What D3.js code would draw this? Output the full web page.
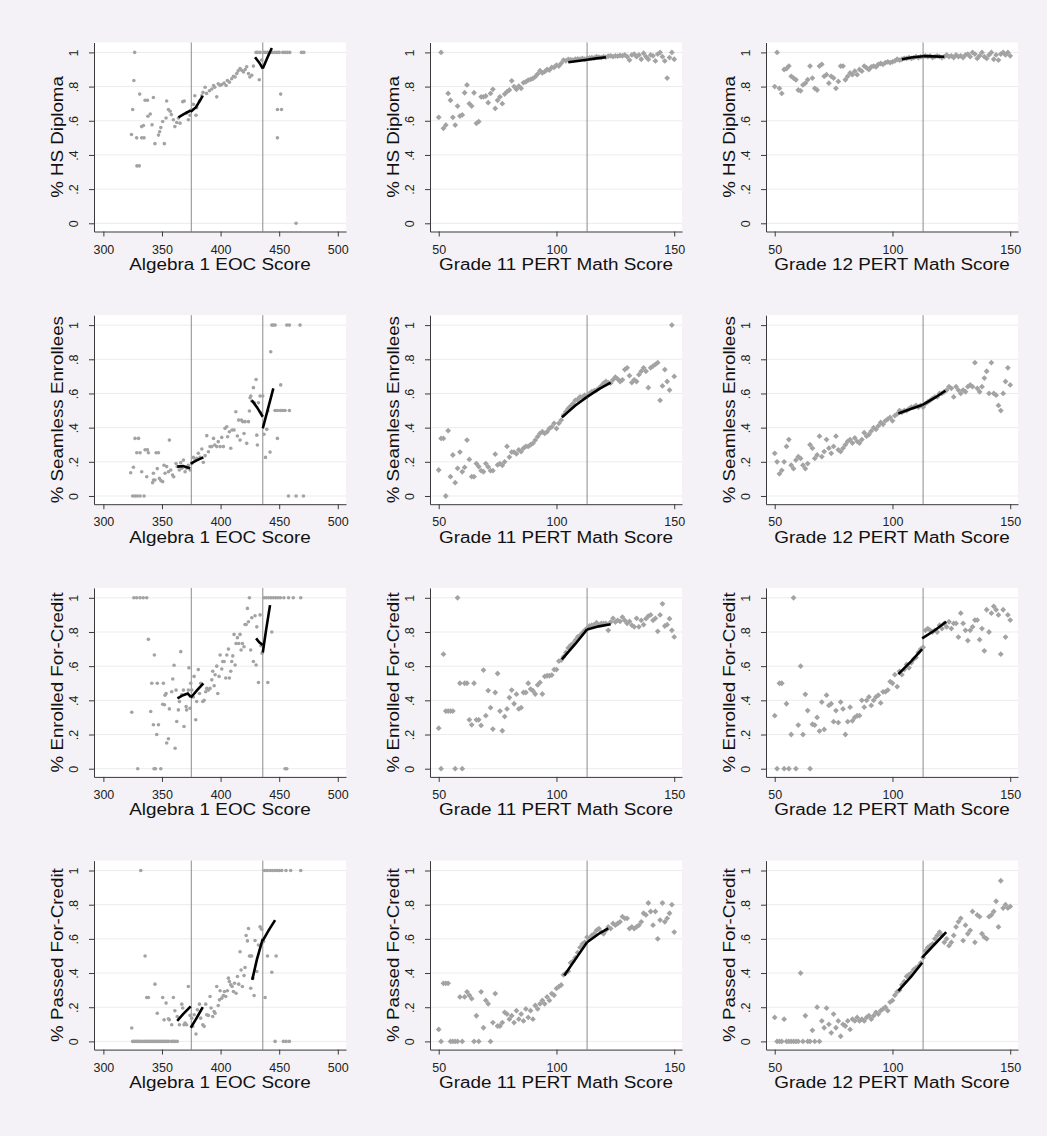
<!DOCTYPE html>
<html><head><meta charset="utf-8">
<script src="https://cdn.jsdelivr.net/npm/d3@7"></script>
<style>
body{margin:0;background:#f4f2f6;}
svg{display:block;font-family:"Liberation Sans",Arial,Helvetica,sans-serif;}
</style></head><body>
<svg id="chart" width="1047" height="1136"></svg>
<script>
// ---------- DATA ----------
const outcomeTitles = ["% HS Diploma","% Seamless Enrollees","% Enrolled For-Credit","% Passed For-Credit"];
const xTitles = ["Algebra 1 EOC Score","Grade 11 PERT Math Score","Grade 12 PERT Math Score"];
const eocTicks = [300,350,400,450,500];
const pertTicks = [50,100,150];
const yTicks = [0,.2,.4,.6,.8,1];
const yTickLabels = ["0",".2",".4",".6",".8","1"];
const eocCutoffs = [375,436];
const pertCutoffs = [113];
const pertScores = d3.range(50,151);

// Algebra 1 EOC panels: [score, share]
const hsDiplomaEOC = [[326.7,1],[326,.836],[325,.666],[324,.52],[328.4,.5],[332.7,.5],[334.7,.5],[328.6,.336],[330.6,.336],[331,.756],[332.7,.566],[334.2,.572],[335.6,.72],[337.6,.72],[338,.626],[340,.64],[342.7,.736],[341.5,.576],[344,.466],[347,.516],[348,.536],[349,.56],[350.6,.596],[352,.466],[354,.716],[353.5,.616],[355.5,.666],[357,.656],[358,.636],[359.7,.606],[361,.566],[362.6,.59],[364,.616],[365.4,.586],[367.7,.712],[369,.716],[371,.646],[372.5,.606],[374,.632],[375.4,.666],[376.8,.696],[378,.746],[379,.632],[379.6,.676],[382,.716],[384,.746],[385,.766],[386.8,.796],[388,.76],[390.5,.776],[392.5,.786],[394,.806],[395,.796],[396.7,.74],[398,.816],[399.6,.806],[401,.812],[403,.82],[404.7,.806],[405.8,.836],[407.5,.826],[409.5,.846],[411,.86],[412.4,.856],[413.8,.876],[415,.892],[416.6,.906],[418,.896],[419.5,.886],[421,.9],[422.3,.916],[423.8,.876],[425,.856],[426.6,.866],[428,.92],[430.3,1],[431.4,1],[433,.84],[433.7,1],[435,.956],[436.6,1],[438,1],[440,1],[442,1],[444,1],[446,1],[448,1],[450,1],[453,1],[455,1],[457,1],[459,1],[448.5,.666],[452,.666],[448.5,.5],[451.3,.756],[469,1],[471,1],[464.4,0]];
const seamlessEOC = [[323.3,.136],[325.6,.168],[327,.337],[330,.337],[325,0],[327,0],[329,0],[331.3,0],[334.7,0],[328.5,.253],[331.3,.253],[332.7,.142],[335.6,.27],[337.6,.27],[337,.113],[338.4,.253],[342,.078],[342.8,.094],[342.7,.133],[344,.094],[345,.253],[347,.253],[346,.16],[347.8,.103],[349,.09],[350.6,.084],[351.8,.18],[352.6,.133],[354,.172],[355.5,.142],[356.3,.327],[357.5,.152],[359,.123],[360,.113],[362,.19],[363,.172],[364.8,.152],[366,.195],[367,.162],[368.3,.21],[369.7,.142],[371,.162],[372.5,.18],[374,.152],[375.4,.19],[376.8,.226],[378.2,.21],[379.6,.22],[381,.25],[382.5,.226],[384,.275],[385.3,.197],[386.8,.236],[388.2,.353],[389.6,.259],[391,.289],[392.5,.289],[394,.337],[395,.298],[396.7,.289],[398,.318],[399.6,.289],[401,.343],[402.4,.289],[403.8,.396],[405.3,.405],[406,.347],[407.5,.376],[408.7,.279],[409.8,.386],[411.5,.386],[413,.493],[414.3,.351],[415.4,.444],[416.6,.327],[417.7,.444],[418.9,.435],[420,.366],[420.9,.435],[422.3,.308],[423.8,.435],[424.6,.497],[425.2,.575],[425.8,.585],[426.6,.556],[428,.634],[428.9,.546],[430.3,.682],[430.9,.356],[431.4,.298],[432.3,.546],[433.7,.585],[434.5,.487],[436,.585],[437,.361],[438.3,.226],[439.4,.39],[440.3,.497],[442.2,.257],[442.8,.844],[443.7,1],[445,1],[446.5,1],[451.3,.65],[446.5,.5],[448.5,.5],[451,.5],[453,.5],[455,.5],[448.5,.337],[456.5,1],[458.7,1],[457.9,0],[458.7,.5],[464.4,0],[467.8,1],[470.7,0]];
const enrolledEOC = [[324.2,.33],[326,1],[328.4,1],[331.3,1],[334,1],[337,1],[329.3,0],[338.4,.757],[340.4,.335],[341.3,.5],[346,.5],[351.2,.5],[342.7,.257],[343.5,.665],[343.2,0],[344.4,0],[349,0],[345.5,.2],[347,.257],[350.6,.377],[352.1,.374],[352.6,.43],[353.5,.44],[354,.15],[355.5,.175],[356.3,.35],[358.3,.45],[359.2,.525],[360.3,.605],[361.2,.12],[362,.46],[362.6,.276],[364,.344],[364.9,.393],[366,.685],[366.8,.432],[368.3,.46],[368.8,.247],[370.6,.364],[371,.344],[372.5,.46],[373,.59],[374,.354],[374.5,.5],[375.4,.46],[376.8,.42],[377.4,.54],[378.8,.286],[379.6,.393],[381,.58],[382,.44],[383,.5],[384.8,.393],[386,.4],[387.3,.45],[388.2,.47],[389.6,.46],[391,.47],[392.5,.52],[393.3,.57],[394.5,.485],[395.3,.55],[396.7,.6],[397.6,.44],[398.7,.54],[399.6,.665],[401,.583],[401.8,.627],[403,.627],[404.4,.531],[405.3,.665],[406.7,.7],[407.5,.531],[408.7,.57],[409.5,.627],[410.4,.66],[411.5,.786],[412.4,.607],[413.2,.733],[414.4,.767],[415.5,.733],[416.6,.786],[417.5,.695],[418.6,.733],[420,.714],[420.9,.844],[421.8,.844],[422.9,.938],[423.8,.86],[424.6,1],[425.7,.695],[426.6,.883],[428,.627],[429.4,.895],[430.3,.607],[430.9,.83],[432.3,.504],[433.7,.9],[434.5,.72],[435.4,.675],[437.1,1],[439,1],[441,1],[443,1],[445,1],[447,1],[449,1],[451,1],[454,1],[458,1],[462,1],[440.3,.504],[443.7,.8],[455,0],[456.5,0],[468.4,1]];
const passedEOC = [[324.2,.078],[325,0],[326.5,0],[328,0],[329.5,0],[331,0],[332.5,0],[334.5,0],[336,0],[337.5,0],[339,0],[340.5,0],[342,0],[343.5,0],[345,0],[346.5,0],[348,0],[349.5,0],[351,0],[352.5,0],[354,0],[355.5,0],[358,0],[359.5,0],[361,0],[363,0],[331.9,1],[335.6,.5],[337,.257],[338.4,.257],[344,.335],[346,.165],[350.6,.257],[351.8,.126],[353.5,.224],[355.5,.132],[356.3,.126],[358.3,.097],[359.7,.257],[361,.179],[363,.146],[364.9,.097],[366.9,.218],[367.7,.195],[368.8,.097],[369.7,.107],[371,.097],[372.5,.321],[374,.152],[375.4,.136],[376.2,.088],[377.4,.156],[379,.043],[380.2,.185],[382,.218],[383,.136],[384.8,.097],[386,.088],[387.3,.218],[388.2,.156],[389.6,.152],[391,.263],[391.9,.195],[393.3,.146],[394.5,.175],[395.3,.165],[396.7,.321],[398,.21],[399,.243],[399.6,.296],[401,.253],[402.4,.268],[403.3,.292],[404.4,.263],[405.8,.296],[406.7,.37],[407.5,.35],[408.7,.331],[409.8,.321],[411,.292],[411.9,.34],[413.2,.282],[414.4,.38],[415.5,.335],[416.6,.525],[417.5,.418],[418.6,.321],[420,.385],[420.9,.432],[421.8,.62],[422.9,.588],[423.8,.661],[424.6,.5],[425.7,.5],[426.5,.5],[425.7,.311],[427.5,.37],[428.6,.268],[429.4,.59],[430.9,.409],[432.3,.564],[433.7,.67],[435,.656],[436.6,.584],[438,.257],[440,.5],[443.7,.405],[437.5,1],[439.7,1],[442,1],[444.2,1],[446.5,1],[448.5,1],[450.2,1],[452.2,1],[455.8,1],[459.8,1],[468.4,1],[446.5,0],[453.6,0],[456,0],[458.7,0],[447.4,.5]];

// PERT panels: share at each score 50..150
const hsDiplomaG11 = [.62,1,.556,.575,.76,.72,.62,.575,.686,.628,.634,.764,.81,.70,.686,.764,.585,.595,.74,.74,.745,.706,.76,.784,.672,.72,.74,.70,.756,.77,.78,.834,.80,.784,.803,.79,.823,.828,.838,.842,.848,.858,.873,.893,.88,.887,.90,.897,.912,.912,.926,.92,.936,.955,.951,.959,.957,.955,.96,.962,.96,.965,.96,.965,.968,.97,.968,.975,.972,.97,.975,.972,.978,.98,.975,.98,.978,.982,.98,.985,.975,.955,.985,.99,.975,.985,.96,.995,.975,.96,.985,.98,.95,.99,1,.975,.95,.85,.97,1,.96];
const hsDiplomaG12 = [.80,1,.79,.76,.90,.905,.92,.86,.85,.84,.78,.775,.81,.82,.84,.92,.85,.79,.78,.92,.93,.86,.87,.82,.86,.85,.79,.83,.92,.92,.84,.86,.88,.87,.89,.87,.90,.89,.92,.91,.90,.915,.92,.915,.93,.935,.93,.94,.945,.94,.945,.95,.96,.955,.96,.965,.965,.97,.965,.97,.975,.97,.975,.975,.98,.975,.98,.97,.975,.98,.975,.97,.975,.985,.975,.98,.97,.985,.975,.98,.97,.985,.99,.975,1,.99,.965,.98,1,.975,.965,.985,1,.96,.985,.955,.99,1,.985,1,.98];
const seamlessG11 = [.152,.337,.337,0,.382,.113,.24,.078,.162,.257,.142,.168,.327,.214,.113,.113,.19,.172,.148,.142,.19,.17,.148,.148,.245,.182,.19,.18,.2,.29,.228,.257,.257,.247,.27,.26,.28,.29,.29,.3,.308,.327,.347,.366,.376,.366,.376,.395,.405,.425,.395,.425,.444,.473,.493,.512,.526,.54,.56,.565,.58,.58,.59,.585,.6,.61,.616,.62,.63,.644,.66,.67,.664,.66,.68,.696,.684,.67,.68,.74,.75,.704,.664,.68,.67,.71,.73,.75,.73,.634,.75,.76,.77,.78,.56,.644,.74,.67,.62,1,.70];
const seamlessG12 = [.25,.20,.13,.15,.20,.29,.33,.18,.16,.21,.23,.22,.18,.16,.19,.30,.28,.22,.24,.35,.23,.26,.33,.28,.25,.29,.35,.27,.26,.28,.30,.32,.33,.31,.34,.32,.31,.33,.37,.35,.36,.38,.40,.39,.41,.43,.42,.44,.45,.46,.44,.47,.48,.50,.49,.50,.50,.51,.52,.52,.53,.52,.53,.52,.54,.55,.56,.57,.58,.58,.60,.60,.61,.62,.64,.63,.58,.64,.62,.60,.62,.61,.64,.65,.64,.78,.63,.61,.64,.69,.73,.60,.78,.60,.59,.53,.50,.60,.67,.75,.65];
const enrolledG11 = [.237,0,.67,.337,.337,.337,.337,0,1,.5,0,.5,.5,.286,.257,.5,.286,.286,.253,.577,.31,.457,.357,.232,.446,.557,.337,.222,.305,.35,.416,.46,.38,.436,.35,.357,.446,.446,.5,.466,.456,.437,.49,.505,.437,.54,.544,.544,.548,.58,.58,.63,.635,.655,.68,.707,.722,.732,.751,.771,.78,.796,.81,.823,.835,.84,.843,.854,.843,.85,.85,.85,.81,.858,.88,.858,.868,.862,.887,.868,.85,.862,.84,.83,.88,.83,.868,.843,.878,.893,.9,.868,.88,.804,.9,.965,.835,.843,.878,.81,.771];
const enrolledG12 = [.31,0,.5,.5,0,.38,0,.2,1,0,.255,.6,.2,.435,.34,0,.26,.255,.30,.22,.39,.23,.43,.37,.38,.275,.34,.27,.39,.35,.2,.275,.36,.28,.30,.31,.31,.40,.36,.40,.42,.37,.40,.42,.43,.385,.45,.45,.46,.51,.5,.55,.48,.57,.55,.58,.61,.59,.62,.64,.65,.68,.70,.71,.81,.82,.81,.80,.81,.80,.84,.82,.85,.83,.86,.82,.85,.85,.77,.91,.85,.81,.75,.81,.83,.87,.87,.755,.82,.69,.93,.80,.91,.95,.93,.90,.67,.93,.77,.90,.87];
const passedG11 = [.07,0,.34,.34,.34,0,0,0,0,.26,0,.26,.29,.27,.25,0,.15,0,.29,.08,.24,.22,0,.11,.28,.09,.09,.11,.17,.16,.13,.15,.11,.18,.13,.16,.12,.19,.14,.18,.13,.21,.19,.22,.24,.22,.26,.24,.28,.27,.31,.32,.33,.39,.40,.41,.46,.47,.49,.52,.55,.57,.58,.61,.60,.62,.63,.65,.66,.64,.63,.65,.67,.66,.69,.68,.69,.70,.73,.72,.72,.66,.67,.66,.67,.68,.70,.75,.74,.81,.76,.68,.76,.60,.71,.81,.70,.72,.75,.80,.64];
const passedG12 = [.14,0,0,0,.13,0,0,0,0,0,0,.40,0,.15,0,0,.065,0,.2,0,.12,.08,.195,.10,.05,.16,.08,.12,.03,.10,.09,.12,.07,.13,.12,.14,.12,.13,.12,.14,.15,.13,.15,.17,.16,.18,.19,.20,.18,.23,.24,.27,.29,.30,.33,.35,.38,.39,.40,.42,.43,.44,.46,.49,.53,.55,.56,.57,.60,.62,.64,.62,.58,.60,.56,.58,.62,.67,.70,.72,.59,.68,.63,.65,.76,.58,.74,.73,.63,.61,.60,.73,.74,.76,.82,.67,.94,.78,.80,.78,.79];

// local linear fits on each side of the cutoffs: segments of [score, share]
const fitHsEOC = [[[364,.62],[369,.64],[374.5,.66]],[[374.5,.652],[379,.68],[384.8,.746]],[[429.4,.972],[433,.94],[436,.906]],[[436,.906],[440,.97],[443.7,1.026]]];
const fitSeamlessEOC = [[[363,.172],[368,.175],[374,.162]],[[374.5,.19],[380,.21],[385.3,.226]],[[426.6,.56],[431,.52],[436,.464]],[[436,.396],[440,.5],[445,.63]]];
const fitEnrolledEOC = [[[363.2,.412],[368,.43],[372,.44],[374.5,.42]],[[374.5,.415],[380,.46],[385.3,.5]],[[430.3,.763],[433,.74],[436,.724]],[[436,.68],[439,.82],[442.2,.957]]];
const fitPassedEOC = [[[363,.12],[368,.16],[374.5,.205]],[[374.5,.08],[379,.13],[384.8,.2]],[[427,.36],[431,.48],[436,.6]],[[436,.59],[441,.65],[446.5,.71]]];
const fitHsG11 = [[[105,.942],[109,.95],[113,.957]],[[113,.957],[117,.965],[121,.972]]];
const fitHsG12 = [[[104,.96],[108,.97],[113,.978]],[[113,.978],[117,.977],[122,.975]]];
const fitSeamlessG11 = [[[102.3,.46],[108,.53],[113,.58]],[[113,.58],[118,.625],[123,.663]]];
const fitSeamlessG12 = [[[102.5,.483],[108,.51],[112.6,.532]],[[112.6,.532],[118,.575],[122.5,.616]]];
const fitEnrolledG11 = [[[102.3,.64],[108,.73],[113,.815]],[[113,.815],[118,.833],[123,.845]]];
const fitEnrolledG12 = [[[102.5,.553],[108,.63],[112.6,.70]],[[112.6,.763],[118,.81],[122.8,.86]]];
const fitPassedG11 = [[[103.3,.385],[108,.48],[113,.58]],[[113,.58],[118,.63],[122,.661]]];
const fitPassedG12 = [[[102.5,.296],[108,.38],[112.6,.46]],[[112.6,.49],[118,.57],[122.8,.64]]];

// ---------- BUILD PANELS ----------
const eocRows = [hsDiplomaEOC, seamlessEOC, enrolledEOC, passedEOC];
const g11Rows = [hsDiplomaG11, seamlessG11, enrolledG11, passedG11];
const g12Rows = [hsDiplomaG12, seamlessG12, enrolledG12, passedG12];
const eocFits = [fitHsEOC, fitSeamlessEOC, fitEnrolledEOC, fitPassedEOC];
const g11Fits = [fitHsG11, fitSeamlessG11, fitEnrolledG11, fitPassedG11];
const g12Fits = [fitHsG12, fitSeamlessG12, fitEnrolledG12, fitPassedG12];

const toPairs = ys => pertScores.map((s,i)=>[s, ys[i]]).filter(d=>d[1]!=null);

const svg = d3.select("#chart");
svg.append("rect").attr("width",1047).attr("height",1136).attr("fill","#f4f2f6");

const colLeft = [94, 430, 766];
const plotW = 252;
const rowTop = [42.5, 315.2, 587.9, 860.6];
const plotH = 189;

const markerColor = "#a3a3a3";
const diamond = h => `M0,${-h}L${h},0L0,${h}L${-h},0Z`;
const tickFont = 12.5;

function panel(r, c){
  const isEOC = c === 0;
  const x0 = colLeft[c], y0 = rowTop[r];
  const x = d3.scaleLinear().domain(isEOC ? [292,507] : [46.3,153.3]).range([x0, x0+plotW]);
  const y = d3.scaleLinear().domain([-0.048,1.058]).range([y0+plotH, y0]);
  const g = svg.append("g");
  g.append("rect").attr("x",x0).attr("y",y0).attr("width",plotW).attr("height",plotH).attr("fill","#ffffff");
  // grid
  g.append("g").selectAll("line").data(yTicks).join("line")
    .attr("x1",x0).attr("x2",x0+plotW).attr("y1",d=>y(d)).attr("y2",d=>y(d))
    .attr("stroke","#ececee").attr("stroke-width",1);
  // cutoffs
  g.append("g").selectAll("line").data(isEOC ? eocCutoffs : pertCutoffs).join("line")
    .attr("x1",d=>x(d)).attr("x2",d=>x(d)).attr("y1",y0).attr("y2",y0+plotH)
    .attr("stroke","#8c8c8c").attr("stroke-width",1);
  // points
  const pts = isEOC ? eocRows[r] : toPairs((c===1?g11Rows:g12Rows)[r]);
  if (isEOC){
    g.append("g").selectAll("circle").data(pts).join("circle")
      .attr("cx",d=>x(d[0])).attr("cy",d=>y(d[1])).attr("r",1.8).attr("fill",markerColor);
  } else {
    g.append("g").selectAll("path").data(pts).join("path")
      .attr("d",diamond(2.9)).attr("transform",d=>`translate(${x(d[0])},${y(d[1])})`).attr("fill",markerColor);
  }
  // fits
  const fits = isEOC ? eocFits[r] : (c===1?g11Fits:g12Fits)[r];
  const line = d3.line().x(d=>x(d[0])).y(d=>y(d[1]));
  g.append("g").selectAll("path").data(fits).join("path")
    .attr("d",line).attr("fill","none").attr("stroke","#000").attr("stroke-width",2.6).attr("stroke-linecap","butt");
  // axes
  const ax = g.append("g").attr("transform",`translate(0,${y0+plotH})`)
    .call(d3.axisBottom(x).tickValues(isEOC?eocTicks:pertTicks).tickSize(5).tickSizeOuter(0).tickPadding(4));
  ax.select(".domain").attr("stroke","#3a3a3a");
  ax.selectAll(".tick line").attr("stroke","#3a3a3a");
  ax.selectAll(".tick text").attr("font-size",tickFont).attr("fill","#222").attr("font-family","Liberation Sans, Arial, sans-serif")
    .attr("dy",null).attr("y",22);
  const ay = g.append("g").attr("transform",`translate(${x0},0)`)
    .call(d3.axisLeft(y).tickValues(yTicks).tickSize(5).tickSizeOuter(0).tickFormat((d,i)=>yTickLabels[i]));
  ay.select(".domain").attr("stroke","#3a3a3a");
  ay.selectAll(".tick line").attr("stroke","#3a3a3a");
  ay.selectAll(".tick text").attr("font-size",tickFont).attr("fill","#222").attr("font-family","Liberation Sans, Arial, sans-serif")
    .attr("text-anchor","middle").attr("transform","rotate(-90)").attr("x",0).attr("y",-16).attr("dy",null);
  // titles
  const xt = g.append("text").attr("x",x0+plotW/2).attr("y",y0+plotH+38.5)
    .attr("text-anchor","middle").attr("font-size",16).attr("fill","#111").text(xTitles[c]);
  xt.attr("textLength", xt.node().getComputedTextLength()*1.18).attr("lengthAdjust","spacingAndGlyphs");
  const yt = g.append("text").attr("transform",`translate(${x0-31},${y0+plotH/2}) rotate(-90)`)
    .attr("text-anchor","middle").attr("font-size",16).attr("fill","#111").text(outcomeTitles[r]);
  yt.attr("textLength", yt.node().getComputedTextLength()*1.17).attr("lengthAdjust","spacingAndGlyphs");
}

for (let r=0;r<4;r++) for (let c=0;c<3;c++) panel(r,c);
</script>
</body></html>
